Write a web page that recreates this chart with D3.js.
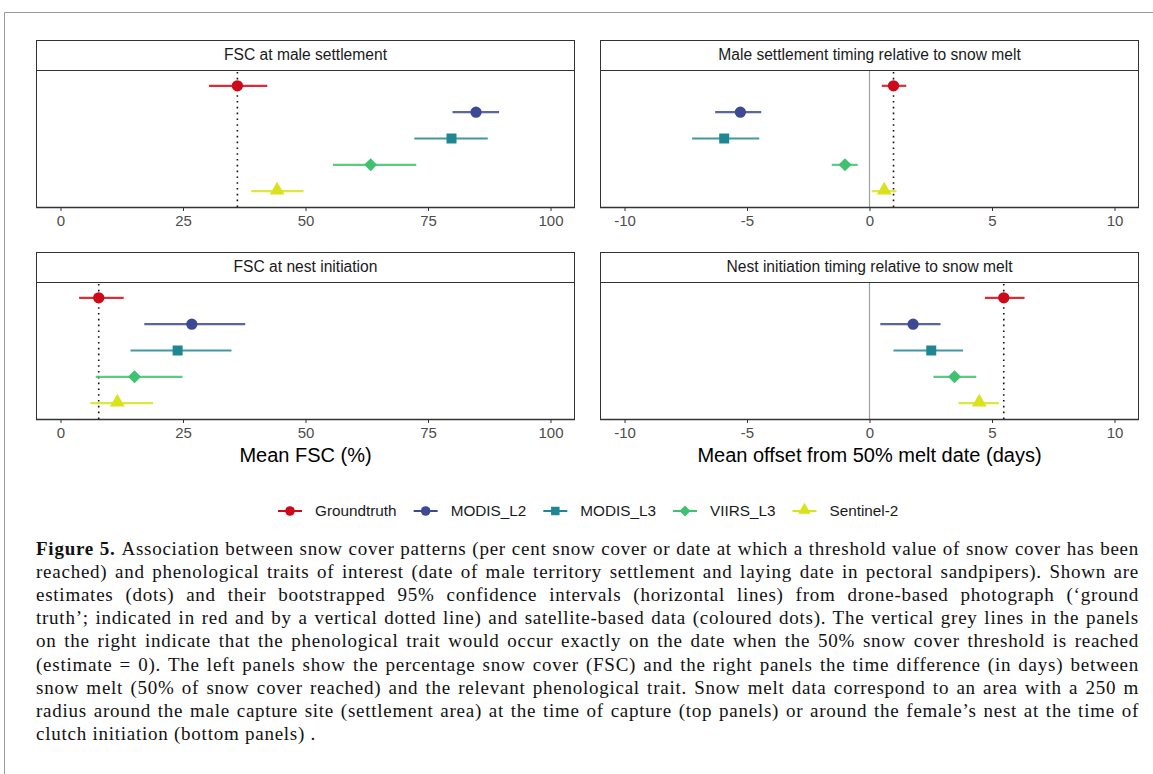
<!DOCTYPE html>
<html>
<head>
<meta charset="utf-8">
<script src="https://cdn.jsdelivr.net/npm/d3@7"></script>
<style>
  body { margin: 0; background: #fff; }
  svg { display: block; }
</style>
</head>
<body>
<svg id="fig" width="1153" height="774"></svg>
<script>
// data sources, top to bottom
var sources = ["Groundtruth", "MODIS_L2", "MODIS_L3", "VIIRS_L3", "Sentinel-2"]
var colours = ["#cc0a1a", "#3d4a93", "#1f8793", "#3ec26f", "#d9e21a"]
var shapes = ["circle", "circle", "square", "diamond", "triangle"]

var panelTitles = ["FSC at male settlement", "Male settlement timing relative to snow melt",
                   "FSC at nest initiation", "Nest initiation timing relative to snow melt"]

// FSC at male settlement (%)
var fscMaleEst = [36.1, 84.8, 79.8, 63.3, 44.2]
var fscMaleLo  = [30.3, 80.0, 72.2, 55.6, 38.9]
var fscMaleHi  = [42.2, 89.5, 87.2, 72.6, 49.6]

// male settlement offset (days)
var offMaleEst = [0.98, -5.27, -5.93, -1.0, 0.6]
var offMaleLo  = [0.5, -6.3, -7.24, -1.54, 0.09]
var offMaleHi  = [1.5, -4.42, -4.5, -0.48, 1.1]

// FSC at nest initiation (%)
var fscNestEst = [7.8, 26.8, 23.9, 15.1, 11.6]
var fscNestLo  = [3.8, 17.1, 14.3, 7.2, 6.1]
var fscNestHi  = [12.9, 37.7, 34.9, 24.9, 18.9]

// nest initiation offset (days)
var offNestEst = [5.48, 1.78, 2.52, 3.47, 4.48]
var offNestLo  = [4.71, 0.44, 0.98, 2.61, 3.63]
var offNestHi  = [6.33, 2.9, 3.82, 4.36, 5.28]

var fscTicks = [0, 25, 50, 75, 100]
var offTicks = [-10, -5, 0, 5, 10]
var xTitles = ["Mean FSC (%)", "Mean offset from 50% melt date (days)"]

var captionLines = [
  "Association between snow cover patterns (per cent snow cover or date at which a threshold value of snow cover has been",
  "reached) and phenological traits of interest (date of male territory settlement and laying date in pectoral sandpipers). Shown are",
  "estimates (dots) and their bootstrapped 95% confidence intervals (horizontal lines) from drone-based photograph (\u2018ground",
  "truth\u2019; indicated in red and by a vertical dotted line) and satellite-based data (coloured dots). The vertical grey lines in the panels",
  "on the right indicate that the phenological trait would occur exactly on the date when the 50% snow cover threshold is reached",
  "(estimate = 0). The left panels show the percentage snow cover (FSC) and the right panels the time difference (in days) between",
  "snow melt (50% of snow cover reached) and the relevant phenological trait. Snow melt data correspond to an area with a 250 m",
  "radius around the male capture site (settlement area) at the time of capture (top panels) or around the female\u2019s nest at the time of",
  "clutch initiation (bottom panels) ."
]

var layout = {
    cols: [{left: 36, right: 575}, {left: 600, right: 1139}],
    rows: [{stripTop: 40, stripBottom: 70, bottom: 207}, {stripTop: 252, stripBottom: 282, bottom: 419}]
}

var panels = [
    {title: panelTitles[0], col: 0, row: 0, est: fscMaleEst, lo: fscMaleLo, hi: fscMaleHi, ticks: fscTicks, domain: [-5, 105], zero: false},
    {title: panelTitles[1], col: 1, row: 0, est: offMaleEst, lo: offMaleLo, hi: offMaleHi, ticks: offTicks, domain: [-11, 11], zero: true},
    {title: panelTitles[2], col: 0, row: 1, est: fscNestEst, lo: fscNestLo, hi: fscNestHi, ticks: fscTicks, domain: [-5, 105], zero: false},
    {title: panelTitles[3], col: 1, row: 1, est: offNestEst, lo: offNestLo, hi: offNestHi, ticks: offTicks, domain: [-11, 11], zero: true}
]

var svg = d3.select("#fig")
var sans = "'Liberation Sans', Arial, sans-serif"

// outer frame of the figure page
svg.append("path")
   .attr("d", "M4.5,774 V12.5 H1153")
   .attr("fill", "none")
   .attr("stroke", "#9a9a9a")
   .attr("stroke-width", 1)

function symbolPath(shape, big) {
    var k = big ? 1 : 0.85
    if (shape === "circle") return d3.symbol(d3.symbolCircle, 100 * k * k)()
    if (shape === "square") return d3.symbol(d3.symbolSquare, 100 * k * k)()
    if (shape === "diamond") return d3.symbol(d3.symbolSquare, 84 * k * k)()
    return d3.symbol(d3.symbolTriangle, 95 * k * k)()
}

function drawMarker(g, shape, x, y, colour, big) {
    var rot = shape === "diamond" ? " rotate(45)" : ""
    var dy = shape === "triangle" ? -1 : 0
    g.append("path")
     .attr("d", symbolPath(shape, big))
     .attr("transform", `translate(${x},${y + dy})${rot}`)
     .attr("fill", colour)
}

panels.forEach(p => {
    var c = layout.cols[p.col], r = layout.rows[p.row]
    var g = svg.append("g")

    var xScale = d3.scaleLinear().domain(p.domain).range([c.left, c.right])
    var yScale = d3.scalePoint().domain(sources).range([r.stripBottom, r.bottom]).padding(0.6)

    // strip
    g.append("rect")
     .attr("x", c.left + 0.5).attr("y", r.stripTop + 0.5)
     .attr("width", c.right - c.left - 1).attr("height", r.stripBottom - r.stripTop)
     .attr("fill", "#fff").attr("stroke", "#333").attr("stroke-width", 1)
    g.append("text")
     .attr("x", (c.left + c.right) / 2).attr("y", (r.stripTop + r.stripBottom) / 2 + 1)
     .attr("text-anchor", "middle").attr("dominant-baseline", "middle")
     .style("font-family", sans).style("font-size", "15.6px").attr("fill", "#1a1a1a")
     .text(p.title)

    if (p.zero) {
        g.append("line")
         .attr("x1", xScale(0)).attr("x2", xScale(0))
         .attr("y1", r.stripBottom).attr("y2", r.bottom)
         .attr("stroke", "#a0a0a0").attr("stroke-width", 1.2)
    }

    // reference line at the ground truth estimate
    g.append("line")
     .attr("x1", xScale(p.est[0])).attr("x2", xScale(p.est[0]))
     .attr("y1", r.stripBottom + 2).attr("y2", r.bottom)
     .attr("stroke", "#111").attr("stroke-width", 1.6)
     .attr("stroke-dasharray", "1.6,4.2")

    sources.forEach((s, i) => {
        g.append("line")
         .attr("x1", xScale(p.lo[i])).attr("x2", xScale(p.hi[i]))
         .attr("y1", yScale(s)).attr("y2", yScale(s))
         .attr("stroke", colours[i]).attr("stroke-width", 2.2)
         .attr("stroke-opacity", 0.85)
        drawMarker(g, shapes[i], xScale(p.est[i]), yScale(s), colours[i], true)
    })

    // panel border
    g.append("rect")
     .attr("x", c.left + 0.5).attr("y", r.stripBottom + 0.5)
     .attr("width", c.right - c.left - 1).attr("height", r.bottom - r.stripBottom)
     .attr("fill", "none").attr("stroke", "#333").attr("stroke-width", 1)
    g.append("line")
     .attr("x1", c.left).attr("x2", c.right)
     .attr("y1", r.bottom + 0.5).attr("y2", r.bottom + 0.5)
     .attr("stroke", "#333").attr("stroke-width", 1.6)

    var axis = g.append("g")
                .attr("transform", `translate(0,${r.bottom + 1})`)
                .call(d3.axisBottom(xScale).tickValues(p.ticks).tickSize(3).tickPadding(4)
                        .tickFormat(d => d < 0 ? "-" + Math.abs(d) : d))
    axis.select(".domain").remove()
    axis.selectAll("line").attr("stroke", "#333")
    axis.selectAll("text")
        .attr("fill", "#4d4d4d")
        .style("font-family", sans)
        .style("font-size", "15px")
})

// x axis titles
xTitles.forEach((t, i) => {
    var c = layout.cols[i]
    svg.append("text")
       .attr("x", (c.left + c.right) / 2).attr("y", 462)
       .attr("text-anchor", "middle")
       .style("font-family", sans).style("font-size", "20px").attr("fill", "#000")
       .text(t)
})

// legend
var legend = svg.append("g")
var lx = 278, ly = 511
sources.forEach((s, i) => {
    legend.append("line")
          .attr("x1", lx).attr("x2", lx + 24).attr("y1", ly).attr("y2", ly)
          .attr("stroke", colours[i]).attr("stroke-width", 2)
    drawMarker(legend, shapes[i], lx + 12, ly, colours[i], false)
    var t = legend.append("text")
                  .attr("x", lx + 37).attr("y", ly + 1)
                  .attr("dominant-baseline", "middle")
                  .style("font-family", sans).style("font-size", "15.3px").attr("fill", "#1a1a1a")
                  .text(s)
    lx += 37 + t.node().getComputedTextLength() + 17
})

// caption, justified between the panel edges
var capLeft = 36, capRight = 1139, capTop = 555, capStep = 23.1
captionLines.forEach((line, i) => {
    var t = svg.append("text")
               .attr("x", capLeft).attr("y", capTop + i * capStep)
               .style("font-family", "'Liberation Serif', 'Times New Roman', serif")
               .style("font-size", "19px").style("letter-spacing", "0.75px")
               .attr("fill", "#111")
    if (i === 0) {
        t.append("tspan").attr("font-weight", "bold").text("Figure 5. ")
    }
    t.append("tspan").text(line)
    if (i < captionLines.length - 1) {
        var full = (i === 0 ? "Figure 5. " : "") + line
        var spaces = full.split(" ").length - 1
        var extra = (capRight - capLeft) - t.node().getComputedTextLength()
        t.attr("word-spacing", extra / spaces)
    }
})
</script>
</body>
</html>
